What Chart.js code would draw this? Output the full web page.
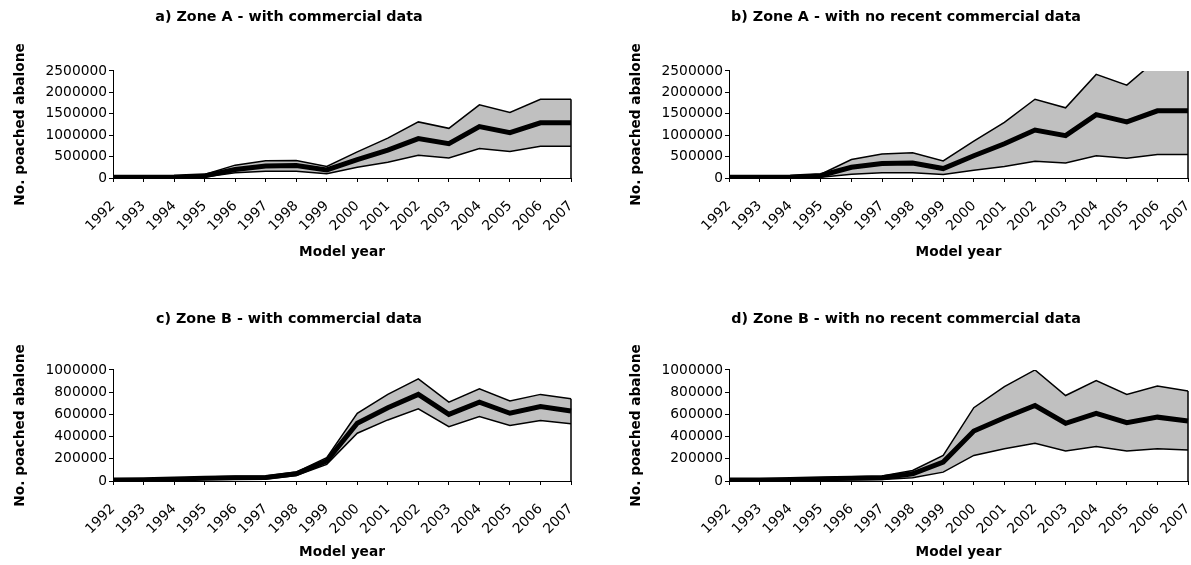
<!DOCTYPE html>
<html>
<head>
<meta charset="utf-8">
<script src="https://cdn.jsdelivr.net/npm/chart.js@4"></script>
<style>
  html, body { margin: 0; padding: 0; background: #fff; }
  body { width: 1191px; height: 565px; position: relative; overflow: hidden; }
  .panel { position: absolute; }
</style>
</head>
<body>
<div class="panel" style="left:0px;top:0px;width:578px;height:282px"><canvas id="chartA"></canvas></div>
<div class="panel" style="left:616px;top:0px;width:580px;height:282px"><canvas id="chartB"></canvas></div>
<div class="panel" style="left:0px;top:282px;width:578px;height:283px"><canvas id="chartC"></canvas></div>
<div class="panel" style="left:616px;top:282px;width:580px;height:283px"><canvas id="chartD"></canvas></div>
<script>
// data
const years = ['1992', '1993', '1994', '1995', '1996', '1997', '1998', '1999',
	'2000', '2001', '2002', '2003', '2004', '2005', '2006', '2007']

// a) Zone A - with commercial data
const aLower = [10000, 10000, 12000, 25000, 120000, 160000, 160000, 100000, 250000, 370000, 530000, 470000, 690000, 620000, 740000, 740000]
const aMid = [20000, 20000, 25000, 50000, 200000, 280000, 290000, 190000, 430000, 650000, 920000, 800000, 1200000, 1060000, 1290000, 1290000]
const aUpper = [40000, 40000, 45000, 80000, 300000, 400000, 410000, 270000, 610000, 930000, 1310000, 1160000, 1710000, 1530000, 1840000, 1840000]

// b) Zone A - with no recent commercial data
const bLower = [8000, 8000, 10000, 20000, 90000, 120000, 120000, 80000, 180000, 270000, 390000, 350000, 520000, 460000, 550000, 550000]
const bMid = [20000, 20000, 25000, 60000, 250000, 340000, 350000, 220000, 520000, 800000, 1120000, 990000, 1480000, 1310000, 1570000, 1570000]
const bUpper = [40000, 40000, 50000, 90000, 430000, 560000, 590000, 400000, 860000, 1300000, 1840000, 1640000, 2420000, 2170000, 2780000, 2780000]

// c) Zone B - with commercial data
const cLower = [5000, 6000, 9000, 13000, 16000, 18000, 50000, 150000, 430000, 550000, 650000, 490000, 580000, 500000, 545000, 515000]
const cMid = [10000, 12000, 17000, 25000, 30000, 32000, 65000, 180000, 520000, 660000, 780000, 600000, 710000, 610000, 670000, 630000]
const cUpper = [15000, 20000, 25000, 35000, 42000, 45000, 80000, 210000, 610000, 780000, 920000, 710000, 830000, 720000, 780000, 740000]

// d) Zone B - with no recent commercial data
const dLower = [3000, 4000, 6000, 9000, 12000, 14000, 30000, 80000, 230000, 290000, 340000, 270000, 310000, 270000, 290000, 280000]
const dMid = [8000, 10000, 13000, 20000, 25000, 30000, 65000, 170000, 450000, 570000, 680000, 520000, 610000, 525000, 575000, 540000]
const dUpper = [15000, 17000, 20000, 30000, 38000, 45000, 95000, 230000, 660000, 850000, 1000000, 770000, 905000, 780000, 855000, 810000]

// y tick values
const ticksZoneA = [0, 500000, 1000000, 1500000, 2000000, 2500000]
const ticksZoneB = [0, 200000, 400000, 600000, 800000, 1000000]

const FONT = '"DejaVu Sans", Verdana, sans-serif'

// right edge of the area: vertical line at the last year
const edgeLine = {
	id: 'edgeLine',
	afterDatasetsDraw(chart) {
		const xs = chart.scales.x
		const ys = chart.scales.y
		const up = chart.data.datasets[2].data
		const last = up.length - 1
		const px = xs.getPixelForValue(last)
		const top = Math.max(ys.getPixelForValue(up[last]), chart.chartArea.top)
		const ctx = chart.ctx
		ctx.save()
		ctx.strokeStyle = '#000'
		ctx.lineWidth = 1.5
		ctx.beginPath()
		ctx.moveTo(px, top)
		ctx.lineTo(px, ys.getPixelForValue(0))
		ctx.stroke()
		ctx.restore()
	},
}

function makeChart(id, titleText, lower, mid, upper, yTicks, top, rightW) {
	const ctx = document.getElementById(id).getContext('2d')
	return new Chart(ctx, {
		type: 'line',
		data: {
			labels: years,
			datasets: [
				{ data: mid, borderColor: '#000', borderWidth: 5, pointRadius: 0, fill: false, tension: 0 },
				{ data: lower, borderColor: '#000', borderWidth: 1.5, pointRadius: 0, fill: false, tension: 0 },
				{ data: upper, borderColor: '#000', borderWidth: 1.5, pointRadius: 0, fill: 1, backgroundColor: '#c0c0c0', tension: 0 },
			],
		},
		options: {
			responsive: true,
			maintainAspectRatio: false,
			animation: false,
			layout: { padding: { left: 0, right: 0, top: 0, bottom: top ? 20 : 0 } },
			plugins: {
				legend: { display: false },
				tooltip: { enabled: false },
				title: {
					display: true,
					text: titleText,
					color: '#000',
					font: { family: FONT, size: 14.3, weight: 'bold' },
					padding: top ? { top: 8.4, bottom: 45.4 } : { top: 28.4, bottom: 42.4 },
				},
			},
			scales: {
				x: {
					type: 'category',
					offset: false,
					grid: { drawOnChartArea: false, drawTicks: true, tickLength: 4, color: '#000' },
					border: { color: '#000', width: 1 },
					ticks: {
						minRotation: 45,
						maxRotation: 45,
						autoSkip: false,
						color: '#000',
						padding: 16,
						font: { family: FONT, size: 13.8 },
					},
					title: {
						display: true,
						text: 'Model year',
						color: '#000',
						font: { family: FONT, size: 13.7, weight: 'bold' },
						padding: { top: 0, bottom: top ? 1.8 : 4.8 },
					},
					afterFit(s) {
						s.height = 84
						s.paddingLeft = 0
						s.paddingRight = 0
					},
				},
				y: {
					min: yTicks[0],
					max: yTicks[yTicks.length - 1],
					afterBuildTicks(s) { s.ticks = yTicks.map((v) => ({ value: v })) },
					grid: { drawOnChartArea: false, drawTicks: true, tickLength: 4, color: '#000' },
					border: { color: '#000', width: 1 },
					ticks: {
						color: '#000',
						padding: 2,
						font: { family: FONT, size: 13.8 },
						callback: (v) => String(v),
					},
					title: {
						display: true,
						text: 'No. poached abalone',
						color: '#000',
						font: { family: FONT, size: 13.7, weight: 'bold' },
						padding: { top: 12, bottom: 0 },
					},
					afterFit(s) { s.width = 113 },
				},
				yr: {
					type: 'linear',
					position: 'right',
					grid: { display: false },
					border: { display: false },
					ticks: { display: false },
					afterFit(s) { s.width = rightW },
				},
			},
		},
		plugins: [edgeLine],
	})
}

makeChart('chartA', 'a) Zone A - with commercial data', aLower, aMid, aUpper, ticksZoneA, true, 7)
makeChart('chartB', 'b) Zone A - with no recent commercial data', bLower, bMid, bUpper, ticksZoneA, true, 8)
makeChart('chartC', 'c) Zone B - with commercial data', cLower, cMid, cUpper, ticksZoneB, false, 7)
makeChart('chartD', 'd) Zone B - with no recent commercial data', dLower, dMid, dUpper, ticksZoneB, false, 8)
</script>
</body>
</html>
